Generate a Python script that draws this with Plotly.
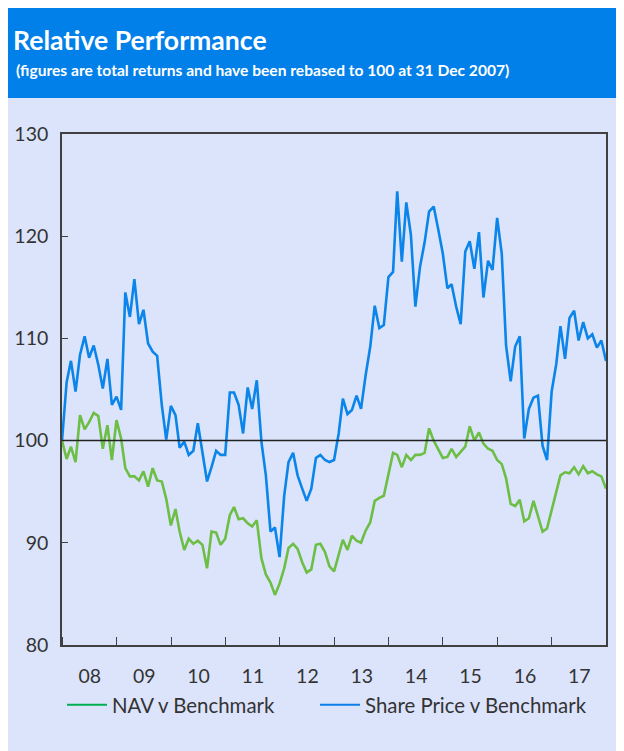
import pandas as pd
import plotly.graph_objects as go

# ---- data (month-end values, rebased to 100 at 31 Dec 2007) ----
start_date = "2007-12-31"
share_price = [100.0, 105.7, 107.8, 104.8, 108.4, 110.2, 108.1, 109.3, 107.4, 105.1,
               108.0, 103.5, 104.3, 103.0, 114.5, 112.1, 115.8, 111.4, 112.8, 109.5,
               108.7, 108.3, 103.5, 100.1, 103.4, 102.5, 99.3, 99.9, 98.6, 99.0,
               101.7, 98.8, 96.0, 97.4, 99.0, 98.6, 98.6, 104.7, 104.7, 103.5,
               100.7, 105.2, 103.1, 105.9, 99.9, 96.6, 91.1, 91.5, 88.6, 94.6,
               97.9, 98.8, 96.6, 95.3, 94.1, 95.3, 98.3, 98.6, 98.1, 97.9,
               98.1, 100.7, 104.1, 102.6, 103.0, 104.4, 103.1, 106.4, 109.2, 113.2,
               111.0, 111.3, 116.0, 116.5, 124.4, 117.5, 123.3, 120.1, 113.1, 117.0,
               119.4, 122.4, 122.9, 120.7, 118.3, 114.9, 115.3, 113.1, 111.4, 118.5,
               119.5, 116.8, 120.4, 114.0, 117.6, 116.7, 121.8, 118.3, 109.3, 105.8,
               109.2, 110.2, 100.2, 103.1, 104.2, 104.4, 99.5, 98.1, 104.8, 107.5,
               111.2, 108.0, 112.0, 112.7, 109.8, 111.6, 110.0, 110.4, 109.1, 109.8, 107.8]
nav = [100.0, 98.2, 99.4, 97.9, 102.5, 101.1, 101.8, 102.7, 102.4, 99.2,
       101.5, 98.1, 102.0, 100.2, 97.3, 96.5, 96.5, 96.1, 97.0, 95.5,
       97.3, 96.1, 96.0, 94.3, 91.7, 93.3, 91.1, 89.3, 90.4, 89.9,
       90.2, 89.8, 87.5, 91.1, 91.0, 89.8, 90.4, 92.7, 93.5, 92.3,
       92.4, 91.9, 91.6, 92.2, 88.5, 86.9, 86.1, 84.9, 86.0, 87.5,
       89.5, 89.9, 89.4, 88.1, 87.1, 87.4, 89.8, 89.9, 89.1, 87.7,
       87.2, 88.8, 90.3, 89.3, 90.7, 90.2, 90.0, 91.2, 92.0, 94.1,
       94.4, 94.6, 96.6, 98.8, 98.6, 97.4, 98.6, 98.1, 98.6, 98.6,
       98.8, 101.2, 100.0, 99.2, 98.3, 98.4, 99.2, 98.4, 98.9, 99.4,
       101.4, 100.0, 100.8, 99.7, 99.2, 99.0, 98.1, 97.7, 96.3, 93.8,
       93.6, 94.2, 92.1, 92.4, 94.1, 92.7, 91.1, 91.4, 93.2, 95.0,
       96.6, 96.9, 96.8, 97.4, 96.7, 97.5, 96.8, 97.0, 96.7, 96.5, 95.3]
years = list(range(2008, 2018))
year_labels = ["08", "09", "10", "11", "12", "13", "14", "15", "16", "17"]
series_names = ["NAV v Benchmark", "Share Price v Benchmark"]
title = "Relative Performance"
subtitle = "(figures are total returns and have been rebased to 100 at 31 Dec 2007)"

dates = pd.date_range(start_date, periods=len(nav), freq="ME")

# ---- layout geometry (figure pixels) ----
W, H = 624, 751
L, R, T, B = 54, 26, 126, 114
PW, PH = W - L - R, H - T - B


def px(x):
    return (x - L) / PW


def py(y):
    return (H - B - y) / PH


GREEN = "#6CBE45"
BLUE = "#0B85E9"
HEADER = "#0180EA"
LAV = "#DCE4FB"
TXT = "#333333"
FONT = "Lato"

fig = go.Figure()
fig.add_trace(go.Scatter(x=dates, y=nav, mode="lines", showlegend=False,
                         line=dict(color=GREEN, width=2.6)))
fig.add_trace(go.Scatter(x=dates, y=share_price, mode="lines", showlegend=False,
                         line=dict(color=BLUE, width=2.6)))
# legend entries
fig.add_trace(go.Scatter(x=[None], y=[None], mode="lines", name=series_names[0],
                         line=dict(color="#00B050", width=2), legend="legend"))
fig.add_trace(go.Scatter(x=[None], y=[None], mode="lines", name=series_names[1],
                         line=dict(color="#0A7FE8", width=2), legend="legend2"))

shapes = [
    dict(type="rect", xref="paper", yref="paper", layer="below",
         x0=px(0), x1=px(W), y0=py(90), y1=py(0),
         fillcolor=HEADER, line=dict(width=0)),
    dict(type="line", xref="paper", yref="y", x0=0, x1=1, y0=100, y1=100,
         line=dict(color="#222222", width=1.5)),
]

annotations = [
    dict(text="<b>" + title + "</b>", xref="paper", yref="paper",
         x=px(3), y=py(32), xanchor="left", yanchor="middle", showarrow=False,
         font=dict(family=FONT, size=26.6, color="white")),
    dict(text="<b>" + subtitle + "</b>", xref="paper", yref="paper",
         x=px(6), y=py(62), xanchor="left", yanchor="middle", showarrow=False,
         font=dict(family=FONT, size=15.6, color="white")),
]

leg_common = dict(orientation="h", xanchor="left", yanchor="middle",
                  bgcolor="rgba(0,0,0,0)", font=dict(family=FONT, size=20.4, color=TXT),
                  itemwidth=40)

fig.update_layout(
    width=W, height=H,
    margin=dict(l=L, r=R, t=T, b=B, pad=0, autoexpand=False),
    paper_bgcolor=LAV,
    plot_bgcolor=LAV,
    shapes=shapes,
    annotations=annotations,
    font=dict(family=FONT, color=TXT, size=19.5),
    legend=dict(x=px(54), y=py(697), **leg_common),
    legend2=dict(x=px(307), y=py(697), **leg_common),
)

fig.update_xaxes(
    range=[start_date, "2017-12-31"],
    tickmode="array",
    tickvals=[f"{y}-07-05" for y in years],
    ticktext=year_labels,
    ticks="",
    showline=True, mirror=True, linecolor="#404040", linewidth=1.6,
    showgrid=False, zeroline=False,
    tickfont=dict(family=FONT, size=19.5, color=TXT),
    ticklabelstandoff=13,
    minor=dict(tick0="2008-01-01", dtick="M12", ticks="inside", ticklen=8,
               tickcolor="#404040", tickwidth=1.4, showgrid=False),
)
fig.update_yaxes(
    range=[80, 130], dtick=10,
    ticks="inside", ticklen=6, tickcolor="#404040", tickwidth=1.4,
    showline=True, mirror=True, linecolor="#404040", linewidth=1.6,
    showgrid=False, zeroline=False,
    tickfont=dict(family=FONT, size=19.5, color=TXT),
    ticklabelstandoff=8,
)

fig.write_html("out.html",
               post_script="document.documentElement.style.overflow='hidden';"
                           "document.body.style.overflow='hidden';")
